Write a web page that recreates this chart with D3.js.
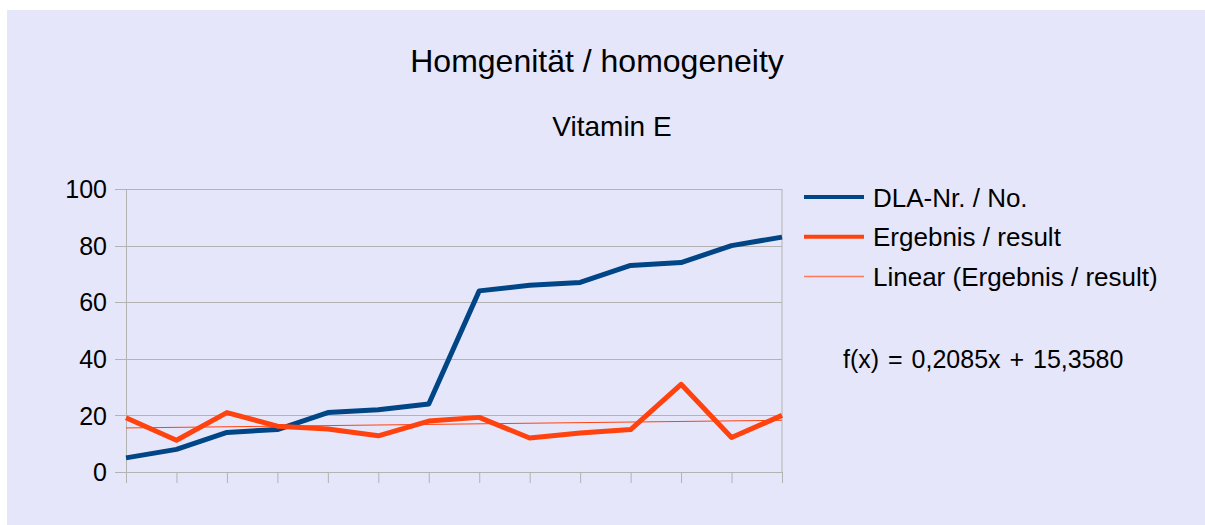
<!DOCTYPE html>
<html>
<head>
<meta charset="utf-8">
<script src="https://cdn.jsdelivr.net/npm/d3@7"></script>
<style>
  body { margin: 0; background: #fff; }
  svg text { font-family: "Liberation Sans", Arial, sans-serif; fill: #000; }
</style>
</head>
<body>
<svg id="chart"></svg>
<script>
// data
var samples = d3.range(1, 15);
var dlaNr = [5, 8, 14, 15, 21, 22, 24, 64, 66, 67, 73, 74, 80, 83];
var result = [19.2, 11.2, 21, 16.2, 15.2, 12.8, 18, 19.3, 12, 13.8, 15, 31, 12.2, 20];
var yTicks = [0, 20, 40, 60, 80, 100];
var trendSlope = 0.2085, trendIntercept = 15.3580;

var width = 1205, height = 525;
var margin = {top: 189, right: 423, bottom: 53, left: 126};

var svg = d3.select("#chart")
  .attr("width", width)
  .attr("height", height);

// background
svg.append("rect")
  .attr("x", 7).attr("y", 10)
  .attr("width", width - 7).attr("height", height - 10)
  .attr("fill", "#e6e6fa");

var x = d3.scalePoint()
  .domain(samples)
  .range([margin.left, width - margin.right]);

var y = d3.scaleLinear()
  .domain([0, 100])
  .range([height - margin.bottom, margin.top]);

// grid
svg.append("g")
  .selectAll("line")
  .data(yTicks)
  .enter()
  .append("line")
  .attr("x1", margin.left - 11)
  .attr("x2", width - margin.right)
  .attr("y1", function(d) { return Math.round(y(d)) + 0.5; })
  .attr("y2", function(d) { return Math.round(y(d)) + 0.5; })
  .attr("stroke", "#b3b3b3");

// y axis
var yAxis = svg.append("g")
  .attr("transform", "translate(" + margin.left + ",0)")
  .call(d3.axisLeft(y).tickValues(yTicks).tickSize(0).tickPadding(19));
yAxis.select(".domain").attr("stroke", "#b3b3b3");
yAxis.selectAll("text")
  .style("font-size", "25px")
  .attr("dy", "0.35em");

// right border
svg.append("line")
  .attr("x1", width - margin.right).attr("x2", width - margin.right)
  .attr("y1", margin.top).attr("y2", height - margin.bottom)
  .attr("stroke", "#b3b3b3");

// x axis with ticks only
var xAxis = svg.append("g")
  .attr("transform", "translate(0," + (height - margin.bottom) + ")")
  .call(d3.axisBottom(x).tickSize(11).tickFormat(""));
xAxis.select(".domain").attr("stroke", "#b3b3b3");
xAxis.selectAll(".tick line").attr("stroke", "#b3b3b3");

var line = d3.line()
  .x(function(d, i) { return x(samples[i]); })
  .y(function(d) { return y(d); });

// trend line
svg.append("line")
  .attr("x1", x(samples[0]))
  .attr("x2", x(samples[samples.length - 1]))
  .attr("y1", y(trendSlope * samples[0] + trendIntercept))
  .attr("y2", y(trendSlope * samples[samples.length - 1] + trendIntercept))
  .attr("stroke", "#ff420e")
  .attr("stroke-width", 1);

svg.append("path")
  .datum(dlaNr)
  .attr("d", line)
  .attr("fill", "none")
  .attr("stroke", "#004586")
  .attr("stroke-width", 5)
  .attr("stroke-linejoin", "round");

svg.append("path")
  .datum(result)
  .attr("d", line)
  .attr("fill", "none")
  .attr("stroke", "#ff420e")
  .attr("stroke-width", 5)
  .attr("stroke-linejoin", "round");

// titles
svg.append("text")
  .attr("x", 597).attr("y", 72)
  .attr("text-anchor", "middle")
  .style("font-size", "32px")
  .text("Homgenität / homogeneity");

svg.append("text")
  .attr("x", 612).attr("y", 136)
  .attr("text-anchor", "middle")
  .style("font-size", "28px")
  .text("Vitamin E");

// legend
var legendItems = [
  {label: "DLA-Nr. / No.", color: "#004586", w: 4},
  {label: "Ergebnis / result", color: "#ff420e", w: 4},
  {label: "Linear (Ergebnis / result)", color: "#ff7a5c", w: 1.5}
];
var legend = svg.append("g")
  .selectAll("g")
  .data(legendItems)
  .enter()
  .append("g")
  .attr("transform", function(d, i) { return "translate(804," + (197 + i * 39.7) + ")"; });
legend.append("line")
  .attr("x1", 0).attr("x2", 60)
  .attr("stroke", function(d) { return d.color; })
  .attr("stroke-width", function(d) { return d.w; });
legend.append("text")
  .attr("x", 69).attr("y", 9.5)
  .style("font-size", "26px")
  .text(function(d) { return d.label; });

// regression equation
var fmt = function(v) { return d3.format(".4f")(v).replace(".", ","); };
svg.append("text")
  .attr("x", 843).attr("y", 368)
  .style("font-size", "25px")
  .style("word-spacing", "2px")
  .text("f(x) = " + fmt(trendSlope) + "x + " + fmt(trendIntercept));
</script>
</body>
</html>
